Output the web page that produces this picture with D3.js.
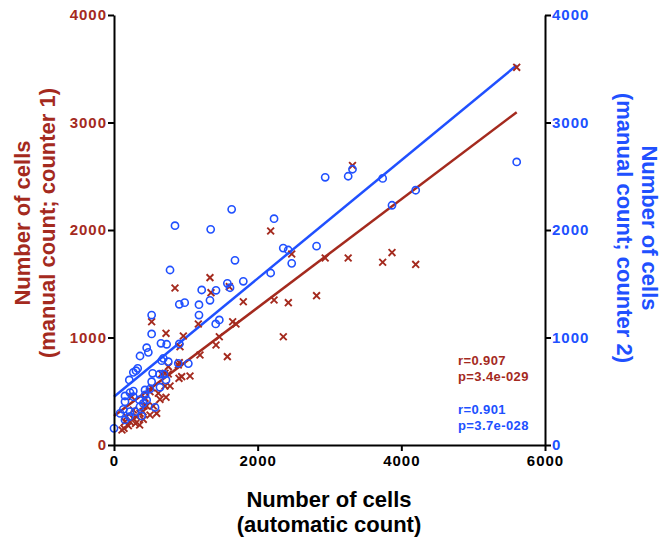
<!DOCTYPE html>
<html>
<head>
<meta charset="utf-8">
<script src="https://cdn.jsdelivr.net/npm/d3@7"></script>
<style>
  body { margin: 0; background: #fff; }
  svg { font-family: "Liberation Sans", Arial, sans-serif; font-weight: bold; }
</style>
</head>
<body>
<div id="chart"></div>
<script>
// automatic count (x) vs manual count, counter 1 (red crosses)
const counter1 = [
  [5606, 3513], [4200, 1680], [3870, 1790], [3740, 1700], [3320, 2600], [3260, 1740],
  [2940, 1740], [2820, 1389], [2474, 1777], [2427, 1324], [2357, 1007], [2228, 1349],
  [2181, 1991], [1800, 1333], [1698, 1126], [1652, 1147], [1605, 1473], [1578, 822],
  [1466, 1007], [1420, 930], [1350, 1417], [1336, 1557], [1197, 837], [1174, 1126],
  [1058, 642], [965, 1014], [942, 636], [919, 914], [909, 766], [849, 1460],
  [756, 660], [756, 729], [724, 1039], [724, 444], [710, 667], [710, 549],
  [640, 425], [617, 481], [594, 294], [547, 363], [524, 1147], [524, 533],
  [501, 496], [501, 279], [455, 363], [432, 434], [408, 239], [362, 294],
  [316, 263], [269, 326], [246, 449], [223, 217], [176, 263], [153, 217],
  [139, 155], [664, 660], [780, 549], [418, 363], [895, 744], [905, 620],
  [357, 186], [265, 248], [111, 140], [404, 310], [300, 200], [200, 180]
];

// automatic count (x) vs manual count, counter 2 (blue circles)
const counter2 = [
  [5606, 2633], [4200, 2370], [3870, 2230], [3740, 2480], [3320, 2565], [3260, 2500],
  [2940, 2490], [2820, 1850], [2474, 1690], [2425, 1814], [2356, 1832], [2228, 2105],
  [2181, 1600], [1800, 1523], [1684, 1718], [1638, 2192], [1615, 1463], [1578, 1504],
  [1420, 1439], [1416, 1126], [1466, 1163], [1346, 2006], [1336, 1346], [1221, 1442],
  [1183, 1305], [1183, 1209], [1035, 757], [984, 1324], [909, 1309], [909, 940],
  [895, 760], [849, 2040], [780, 1628], [756, 775], [733, 937], [696, 658],
  [687, 806], [654, 946], [640, 537], [571, 350], [538, 667], [524, 1209],
  [524, 1033], [524, 589], [501, 521], [478, 862], [455, 905], [455, 419],
  [432, 512], [432, 465], [408, 388], [385, 270], [362, 828], [362, 357],
  [353, 419], [330, 713], [306, 691], [292, 310], [269, 676], [269, 502],
  [269, 449], [223, 487], [213, 605], [223, 310], [153, 456], [153, 403],
  [153, 233], [130, 332], [84, 294], [0, 155], [633, 658], [724, 605],
  [664, 784], [213, 263]
];

// regression lines: [intercept, slope]
const fit1 = [270, 0.504];
const fit2 = [449, 0.55];

const xTicks = [0, 2000, 4000, 6000];
const yTicks = [0, 1000, 2000, 3000, 4000];

const stats1 = ['r=0.907', 'p=3.4e-029'];
const stats2 = ['r=0.901', 'p=3.7e-028'];

const red = '#a42a1e';
const blue = '#2050ff';

const width = 672, height = 540;
const margins = { top: 15, right: 127, bottom: 95, left: 114 };

const x = d3.scaleLinear()
  .domain([0, 6000])
  .range([margins.left, width - margins.right]);

const y = d3.scaleLinear()
  .domain([0, 4000])
  .range([height - margins.bottom, margins.top]);

const $svg = d3.select('#chart').append('svg')
  .attr('width', width)
  .attr('height', height);

// regression lines
const xMax = d3.max(counter1, d => d[0]);
[[fit1, red], [fit2, blue]].forEach(([f, c]) => {
  $svg.append('line')
    .attr('x1', x(0)).attr('y1', y(f[0]))
    .attr('x2', x(xMax)).attr('y2', y(f[0] + f[1] * xMax))
    .attr('stroke', c)
    .attr('stroke-width', 2.5);
});

// red crosses
const s = 3.4;
$svg.append('g').selectAll('path')
  .data(counter1)
  .enter()
  .append('path')
  .attr('d', d => {
    let cx = x(d[0]), cy = y(d[1]);
    return `M${cx - s},${cy - s}L${cx + s},${cy + s}M${cx - s},${cy + s}L${cx + s},${cy - s}`;
  })
  .attr('stroke', red)
  .attr('stroke-width', 1.9)
  .attr('fill', 'none');

// blue circles
$svg.append('g').selectAll('circle')
  .data(counter2)
  .enter()
  .append('circle')
  .attr('cx', d => x(d[0]))
  .attr('cy', d => y(d[1]))
  .attr('r', 3.6)
  .attr('stroke', blue)
  .attr('stroke-width', 1.6)
  .attr('fill', 'none');

// axes
const fmt = d3.format('d');

function styleAxis(g, color) {
  g.attr('font-family', null).attr('font-size', null);
  g.select('.domain').attr('stroke', '#000').attr('stroke-width', 2);
  g.selectAll('.tick line').attr('stroke', '#000').attr('stroke-width', 2);
  g.selectAll('.tick text')
    .attr('fill', color)
    .style('font-size', '15px')
    .style('font-weight', 'bold')
    .style('letter-spacing', '1px');
}

$svg.append('g')
  .attr('transform', `translate(0,${y(0)})`)
  .call(d3.axisBottom(x).tickValues(xTicks).tickFormat(fmt).tickSize(6).tickPadding(4).tickSizeOuter(0))
  .call(g => styleAxis(g, '#000'));

$svg.append('g')
  .attr('transform', `translate(${x(0)},0)`)
  .call(d3.axisLeft(y).tickValues(yTicks).tickFormat(fmt).tickSize(6).tickPadding(1).tickSizeOuter(0))
  .call(g => styleAxis(g, red));

$svg.append('g')
  .attr('transform', `translate(${x(6000)},0)`)
  .call(d3.axisRight(y).tickValues(yTicks).tickFormat(fmt).tickSize(6).tickPadding(1).tickSizeOuter(0))
  .call(g => styleAxis(g, blue));

// axis titles
const titleSize = '22px';
const midY = 223;

$svg.append('text')
  .attr('text-anchor', 'middle')
  .style('font-size', titleSize)
  .selectAll('tspan')
  .data(['Number of cells', '(automatic count)'])
  .enter()
  .append('tspan')
  .attr('x', 329)
  .attr('y', (d, i) => 507 + i * 25)
  .text(d => d);

$svg.append('text')
  .attr('text-anchor', 'middle')
  .attr('fill', red)
  .attr('transform', `translate(30,${midY}) rotate(-90)`)
  .style('font-size', titleSize)
  .selectAll('tspan')
  .data(['Number of cells', '(manual count; counter 1)'])
  .enter()
  .append('tspan')
  .attr('x', 0)
  .attr('y', (d, i) => i * 25)
  .text(d => d);

$svg.append('text')
  .attr('text-anchor', 'middle')
  .attr('fill', blue)
  .attr('transform', `translate(642,${midY + 5}) rotate(90)`)
  .style('font-size', titleSize)
  .selectAll('tspan')
  .data(['Number of cells', '(manual count; counter 2)'])
  .enter()
  .append('tspan')
  .attr('x', 0)
  .attr('y', (d, i) => i * 25)
  .text(d => d);

// correlation stats
[[stats1, red, 365], [stats2, blue, 414]].forEach(([lines, c, top]) => {
  $svg.append('text')
    .attr('fill', c)
    .style('font-size', '13px')
    .style('letter-spacing', '0.4px')
    .selectAll('tspan')
    .data(lines)
    .enter()
    .append('tspan')
    .attr('x', 458)
    .attr('y', (d, i) => top + i * 16)
    .text(d => d);
});
</script>
</body>
</html>
